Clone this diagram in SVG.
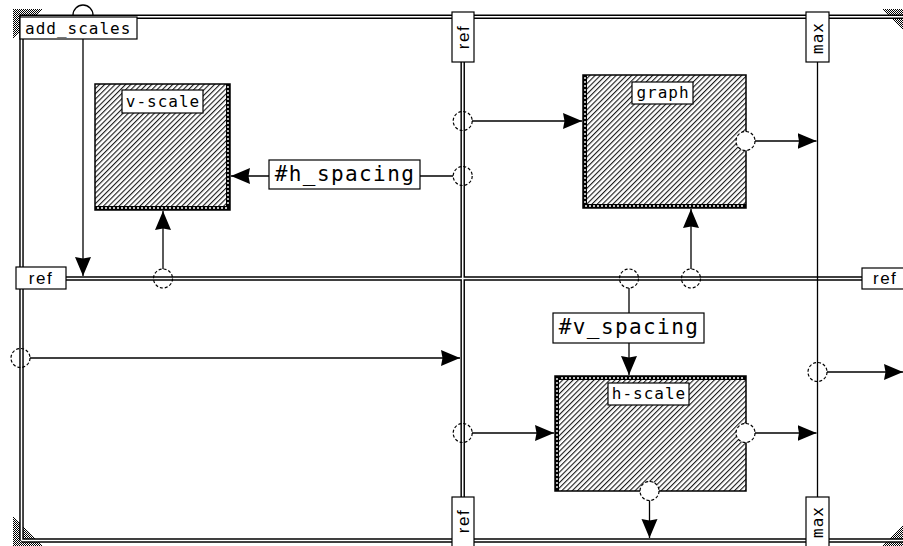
<svg xmlns="http://www.w3.org/2000/svg" width="903" height="546" viewBox="0 0 903 546">
<style>
.dblb{fill:none;stroke:#000;stroke-width:4.5}
.dblw{fill:none;stroke:#fff;stroke-width:1.6}
.ln{fill:none;stroke:#000;stroke-width:1.3}
.port{fill:none;stroke:#000;stroke-width:1.2;stroke-dasharray:3 2}
.portw{fill:#fff;stroke:#000;stroke-width:1.2;stroke-dasharray:3 2}
.lbl{fill:#fff;stroke:#000;stroke-width:1.2}
.box{fill:url(#hatch);stroke:#000;stroke-width:1.5}
.band{fill:#000}
.bandw{fill:none;stroke:#fff;stroke-width:1.4;stroke-dasharray:2 2}
.mono{font-family:"DejaVu Sans Mono","Liberation Mono",monospace;font-size:16px;letter-spacing:1px;fill:#000}
.big{font-family:"DejaVu Sans Mono","Liberation Mono",monospace;font-size:21px;letter-spacing:1.4px;fill:#000}
.sans{font-family:"Liberation Sans",Arial,sans-serif;font-size:17px;letter-spacing:1.5px;fill:#000}
.dith{fill:url(#dither)}
</style>
<defs>
<pattern id="hatch" width="3.7" height="3.7" patternUnits="userSpaceOnUse" patternTransform="rotate(45)">
<rect width="3.7" height="3.7" fill="#fff"/>
<line x1="0.6" y1="0" x2="0.6" y2="3.7" stroke="#000" stroke-width="1"/>
</pattern>
<pattern id="dither" width="2" height="2" patternUnits="userSpaceOnUse">
<rect width="2" height="2" fill="#fff"/>
<rect width="1" height="1" fill="#000"/>
<rect x="1" y="1" width="1" height="1" fill="#000"/>
</pattern>
<marker id="arr" markerUnits="userSpaceOnUse" markerWidth="20" markerHeight="17" refX="19" refY="8.5" orient="auto">
<path d="M0,0.5 L19,8.5 L0,16.5 L1.5,8.5 z" fill="#000"/>
</marker>
</defs>

<g id="frame">
<polygon class="dith" points="13,9 43,9 13,39"/>
<polygon class="dith" points="13,516 13,546 43,546"/>
<polygon class="dith" points="882,9 903,9 903,30"/>
<polygon class="dith" points="882,546 903,546 903,525"/>
<path class="dblb" d="M21.5,540.5 L21.5,16.8 L910,16.8 M21.5,540.5 L910,540.5"/>
<path class="dblw" d="M21.5,540.5 L21.5,16.8 L910,16.8 M21.5,540.5 L910,540.5"/>
<path class="ln" d="M73,15 A10,10 0 0 1 93,15"/>
</g>

<g id="rails">
<path class="dblb" d="M462.7,62 L462.7,497 M66,278.5 L862,278.5"/>
<path class="dblw" d="M462.7,62 L462.7,497 M66,278.5 L862,278.5"/>
<line class="ln" x1="817.5" y1="62" x2="817.5" y2="497"/>
</g>

<g id="v-scale">
<rect class="box" x="95" y="84" width="135" height="126"/>
<rect class="band" x="226" y="84" width="4" height="126"/>
<line class="bandw" x1="228" y1="86" x2="228" y2="208"/>
<rect class="band" x="95" y="206" width="135" height="4"/>
<line class="bandw" x1="97" y1="208" x2="228" y2="208"/>
<rect class="lbl" x="122" y="90" width="81" height="23"/>
<text class="mono" x="163" y="107" text-anchor="middle">v-scale</text>
</g>

<g id="graph">
<rect class="box" x="583" y="75" width="163" height="133"/>
<rect class="band" x="583" y="75" width="4" height="133"/>
<line class="bandw" x1="585" y1="77" x2="585" y2="206"/>
<rect class="band" x="583" y="204" width="163" height="4"/>
<line class="bandw" x1="585" y1="206" x2="744" y2="206"/>
<rect class="lbl" x="632" y="82" width="61" height="22"/>
<text class="mono" x="663" y="98" text-anchor="middle">graph</text>
</g>

<g id="h-scale">
<rect class="box" x="555" y="376" width="191" height="115"/>
<rect class="band" x="555" y="376" width="191" height="4"/>
<line class="bandw" x1="557" y1="378" x2="744" y2="378"/>
<rect class="band" x="555" y="376" width="4" height="115"/>
<line class="bandw" x1="557" y1="378" x2="557" y2="489"/>
<rect class="lbl" x="608" y="383" width="81" height="22"/>
<text class="mono" x="649" y="399" text-anchor="middle">h-scale</text>
</g>

<g id="h_spacing">
<rect class="lbl" x="269" y="160" width="151" height="29"/>
<text class="big" x="345" y="181" text-anchor="middle">#h_spacing</text>
</g>

<g id="v_spacing">
<rect class="lbl" x="553" y="313" width="151" height="30"/>
<text class="big" x="629" y="334" text-anchor="middle">#v_spacing</text>
</g>

<g id="connectors">
<line class="ln" x1="83" y1="39" x2="83" y2="276" marker-end="url(#arr)"/>
<line class="ln" x1="163" y1="269" x2="163" y2="211" marker-end="url(#arr)"/>
<circle class="port" cx="163" cy="278.5" r="9.5"/>
<line class="ln" x1="453" y1="176" x2="420" y2="176"/>
<line class="ln" x1="269" y1="176" x2="231" y2="176" marker-end="url(#arr)"/>
<circle class="port" cx="462.7" cy="176" r="9.5"/>
<line class="ln" x1="472" y1="121" x2="582" y2="121" marker-end="url(#arr)"/>
<circle class="port" cx="462.7" cy="121" r="9.5"/>
<line class="ln" x1="691" y1="269" x2="691" y2="209" marker-end="url(#arr)"/>
<circle class="port" cx="691" cy="278.5" r="9.5"/>
<line class="ln" x1="755" y1="141" x2="816.5" y2="141" marker-end="url(#arr)"/>
<circle class="portw" cx="745.5" cy="141" r="9.5"/>
<line class="ln" x1="629" y1="288" x2="629" y2="313"/>
<line class="ln" x1="629" y1="343" x2="629" y2="375" marker-end="url(#arr)"/>
<circle class="port" cx="629" cy="278.5" r="9.5"/>
<line class="ln" x1="472" y1="433" x2="554" y2="433" marker-end="url(#arr)"/>
<circle class="port" cx="462.7" cy="433" r="9.5"/>
<line class="ln" x1="755" y1="433" x2="816.5" y2="433" marker-end="url(#arr)"/>
<circle class="portw" cx="745.5" cy="433" r="9.5"/>
<line class="ln" x1="649.5" y1="500" x2="649.5" y2="538" marker-end="url(#arr)"/>
<circle class="portw" cx="649.5" cy="491" r="9.5"/>
<line class="ln" x1="30" y1="358" x2="460" y2="358" marker-end="url(#arr)"/>
<circle class="port" cx="20.5" cy="358" r="9.5"/>
<line class="ln" x1="827" y1="372" x2="903" y2="372" marker-end="url(#arr)"/>
<circle class="port" cx="817.5" cy="372" r="9.5"/>
</g>

<g id="add_scales">
<rect class="lbl" x="20" y="17" width="117" height="22"/>
<text class="mono" x="25" y="33.5">add_scales</text>
</g>

<g id="ref-left">
<rect class="lbl" x="16" y="267" width="50" height="22"/>
<text class="sans" x="41" y="284" text-anchor="middle">ref</text>
</g>
<g id="ref-right">
<rect class="lbl" x="862" y="268" width="50" height="21"/>
<text class="sans" x="873" y="284">ref</text>
</g>
<g id="ref-top">
<rect class="lbl" x="452" y="12" width="22" height="50"/>
<text class="sans" transform="translate(469,37) rotate(-90)" text-anchor="middle">ref</text>
</g>
<g id="ref-bottom">
<rect class="lbl" x="452" y="497" width="22" height="52"/>
<text class="sans" transform="translate(469,521) rotate(-90)" text-anchor="middle">ref</text>
</g>
<g id="max-top">
<rect class="lbl" x="806" y="12" width="23" height="50"/>
<text class="mono" transform="translate(823,38) rotate(-90)" text-anchor="middle">max</text>
</g>
<g id="max-bottom">
<rect class="lbl" x="806" y="497" width="23" height="52"/>
<text class="mono" transform="translate(823,522) rotate(-90)" text-anchor="middle">max</text>
</g>
</svg>
